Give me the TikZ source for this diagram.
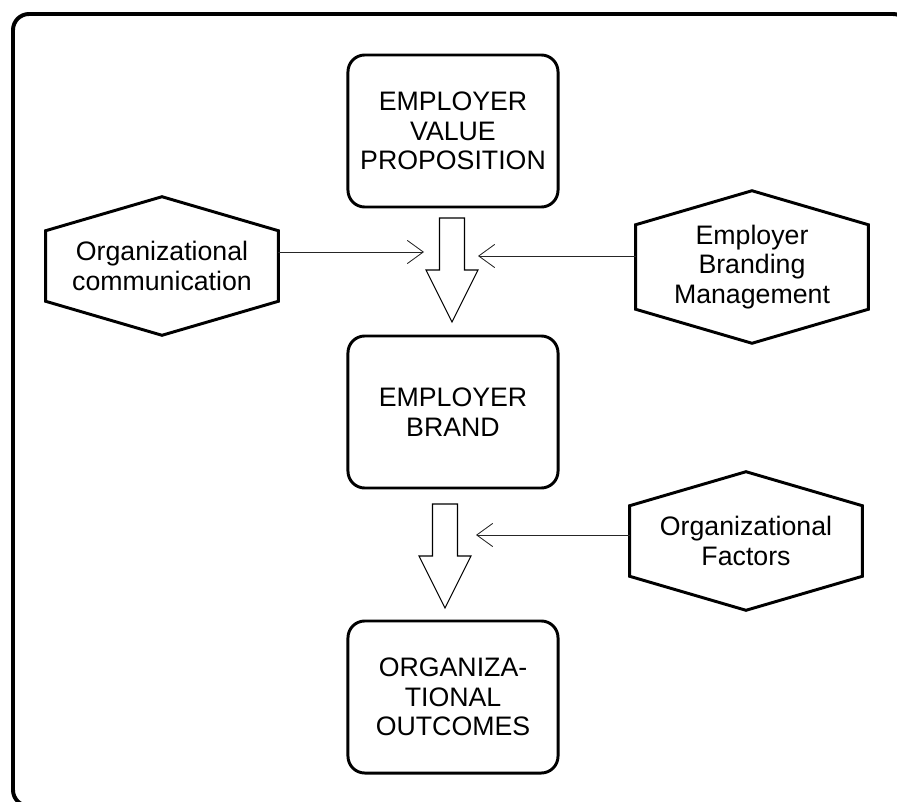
\documentclass[tikz,border=0pt]{standalone}
\usepackage{fontspec}
\setmainfont{Liberation Sans}
\usetikzlibrary{arrows.meta}
\usetikzlibrary{calc}

\begin{document}
\begin{tikzpicture}[x=0.025cm, y=-0.025cm, font=\fontsize{19pt}{21pt}\selectfont,
	valuebox/.style={draw, line width=2.1pt, rounded corners=0.42cm, minimum width=5.25cm, minimum height=3.8cm, align=center, inner sep=0pt},
	factor/.style={align=center, minimum width=5.8cm, minimum height=1.75cm, inner sep=0pt},
	hexline/.style={line width=2.1pt, line join=miter},
	flow/.style={line width=0.75pt, line join=miter},
	feed/.style={line width=0.6pt, black!85, -{Straight Barb[length=0.4cm, width=0.58cm]}}]

	\useasboundingbox (0,0) rectangle (897,802);
	% outer frame, runs off the right and bottom edge
	\draw[line width=2.8pt, rounded corners=0.4cm] (13,14) rectangle (909,806);

	% main chain
	\node[valuebox] (evp) at (453,131) {EMPLOYER\\VALUE\\PROPOSITION};
	\node[valuebox] (brand) at (453,412) {EMPLOYER\\BRAND};
	\node[valuebox] (outcome) at (453,697) {ORGANIZA-\\TIONAL\\OUTCOMES};

	% block arrows
	\coordinate (flowA) at (452,218);
	\coordinate (flowB) at (445,504);
	\draw[flow] (flowA) ++(-12.5,0) -- ++(25,0) -- ++(0,52) -- ++(13.5,0) -- ++(-26,52) -- ++(-26,-52) -- ++(13.5,0) -- cycle;
	\draw[flow] (flowB) ++(-12.5,0) -- ++(25,0) -- ++(0,52) -- ++(13.5,0) -- ++(-26,52) -- ++(-26,-52) -- ++(13.5,0) -- cycle;

	% influencing factors
	\node[factor] (comm) at (162,266) {Organizational\\communication};
	\node[factor] (mgmt) at (752,267) {Employer\\Branding\\Management};
	\node[factor] (factors) at (746,541) {Organizational\\Factors};

	\draw[hexline] (comm.north west) -- ($(comm.north)+(0,-34)$) -- (comm.north east) -- (comm.south east) -- ($(comm.south)+(0,34)$) -- (comm.south west) -- cycle;
	\draw[hexline] (mgmt.north west) -- ($(mgmt.north)+(0,-34)$) -- (mgmt.north east) -- (mgmt.south east) -- ($(mgmt.south)+(0,34)$) -- (mgmt.south west) -- cycle;
	\draw[hexline] (factors.north west) -- ($(factors.north)+(0,-34)$) -- (factors.north east) -- (factors.south east) -- ($(factors.south)+(0,34)$) -- (factors.south west) -- cycle;

	\coordinate (commtip) at ($(flowA)+(-28,34)$);
	\coordinate (mgmttip) at ($(flowA)+(26,38)$);
	\coordinate (factortip) at ($(flowB)+(31,31)$);
	\draw[feed] (comm.east |- commtip) -- (commtip);
	\draw[feed] (mgmt.west |- mgmttip) -- (mgmttip);
	\draw[feed] (factors.west |- factortip) -- (factortip);

\end{tikzpicture}
\end{document}
